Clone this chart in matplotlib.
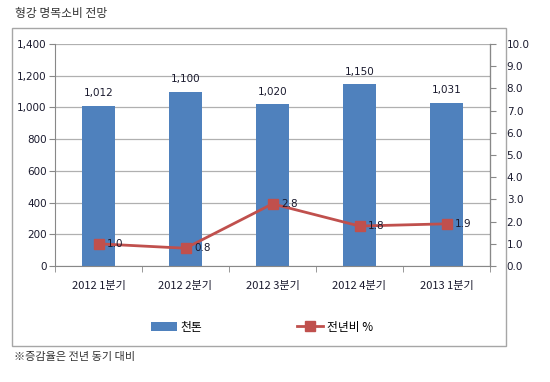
import matplotlib.pyplot as plt
from matplotlib.patches import Rectangle

plt.rcParams['font.family'] = ['Noto Sans CJK KR', 'DejaVu Sans']

quarters = ['2012 1분기', '2012 2분기', '2012 3분기', '2012 4분기', '2013 1분기']
volume = [1012, 1100, 1020, 1150, 1031]
growth = [1.0, 0.8, 2.8, 1.8, 1.9]

bar_color = '#4F81BD'
line_color = '#C0504D'
text_color = '#1a1a2e'

fig = plt.figure(figsize=(5.5, 3.82), dpi=100)

# outer chart frame
fig.patches.append(Rectangle((12 / 550, 1 - 346 / 382), 494 / 550, 318 / 382,
                             transform=fig.transFigure, fill=False,
                             edgecolor='#a6a6a6', linewidth=1.0))

ax = fig.add_axes([55 / 550, 1 - 266 / 382, 435 / 550, 222 / 382])
ax2 = ax.twinx()

x = list(range(len(quarters)))
bars = ax.bar(x, volume, width=0.39, color=bar_color, zorder=2, label='천톤')
for xi, v in zip(x, volume):
    ax.text(xi, v + 45, f'{v:,}', ha='center', va='bottom', fontsize=7.5,
            family='DejaVu Sans', color=text_color)

ax.set_ylim(0, 1400)
ax.set_yticks(range(0, 1401, 200))
ax.set_yticklabels([f'{t:,}' for t in range(0, 1401, 200)], family='DejaVu Sans',
                   fontsize=7.5, color=text_color)
ax.set_xlim(-0.5, len(quarters) - 0.5)
ax.set_xticks(x)
ax.set_xticklabels(quarters, fontsize=8, color=text_color)
ax.set_xticks([i + 0.5 for i in range(-1, len(quarters))], minor=True)
ax.tick_params(axis='x', which='major', length=0, pad=11)
ax.tick_params(axis='x', which='minor', length=4, color='#888888')
ax.tick_params(axis='y', length=4, color='#888888', pad=2)
ax.grid(axis='y', color='#b0b0b0', linewidth=0.9, zorder=0)
ax.set_axisbelow(True)

for s in ['top']:
    ax.spines[s].set_visible(False)
    ax2.spines[s].set_visible(False)
for sp in [ax.spines['left'], ax.spines['bottom'], ax2.spines['right']]:
    sp.set_color('#888888')
ax2.spines['left'].set_visible(False)
ax2.spines['bottom'].set_visible(False)

line, = ax2.plot(x, growth, color=line_color, linewidth=2, marker='s',
                 markersize=7, zorder=3, label='전년비 %')
for xi, g in zip(x, growth):
    ax2.text(xi + 0.1, g, f'{g:.1f}', ha='left', va='center', fontsize=7.5,
             family='DejaVu Sans', color=text_color)
ax2.set_ylim(0, 10)
ax2.set_yticks(range(0, 11))
ax2.set_yticklabels([f'{t:.1f}' for t in range(0, 11)], family='DejaVu Sans',
                    fontsize=7.5, color=text_color)
ax2.tick_params(axis='y', length=4, color='#888888', pad=8)

fig.legend([bars, line], ['천톤', '전년비 %'], loc='center',
           bbox_to_anchor=(262 / 550, 1 - 327 / 382), ncol=2, frameon=False,
           fontsize=8.5, columnspacing=8, handlelength=2.2, handletextpad=0.3)

fig.text(15 / 550, 1 - 13 / 382, '형강 명목소비 전망', fontsize=8.5,
         ha='left', va='center', color='#333333')
fig.text(14 / 550, 1 - 357 / 382, '※증감율은 전년 동기 대비', fontsize=8,
         ha='left', va='center', color='#333333')

fig.savefig('out.png', dpi=100)
